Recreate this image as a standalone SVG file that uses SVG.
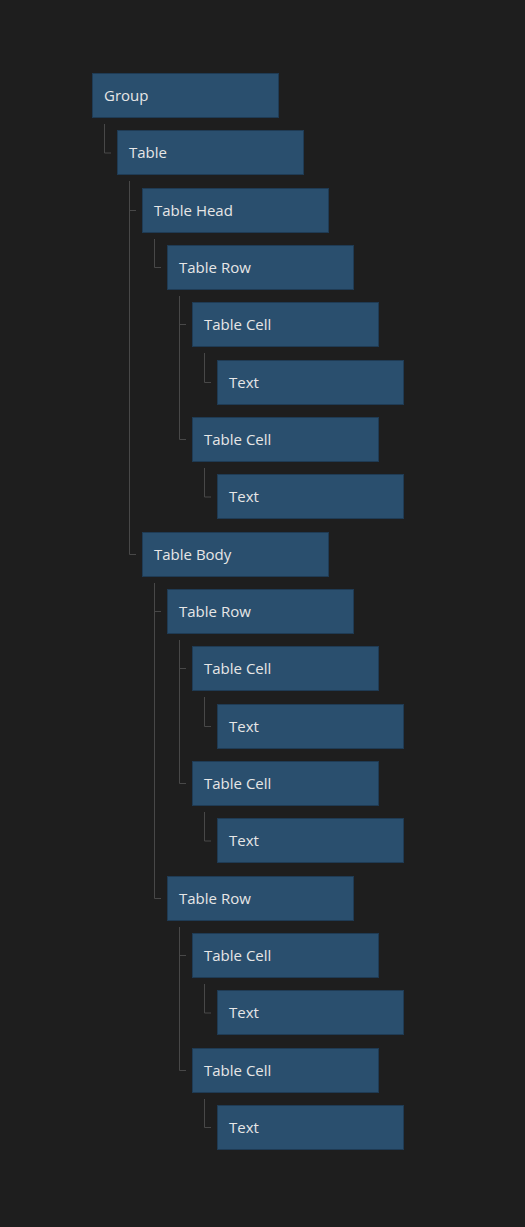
<svg xmlns="http://www.w3.org/2000/svg" width="525" height="1227" viewBox="0 0 525 1227">
<style>
.n rect{fill:#2a4f6e;stroke:#1f3b54;stroke-width:1}
.n text{font-family:"Open Sans","Noto Sans",sans-serif;font-size:15px;fill:#e6e6e6;dominant-baseline:central}
.c path{fill:none;stroke:#484848;stroke-width:1}
</style>
<rect width="525" height="1227" fill="#1e1e1e"/>
<g class="c" id="connectors">
<path d="M104.5 124V153H111"/>
<path d="M129.5 181V554.5H136M129.5 210.5H136"/>
<path d="M154.5 239V267.5H161"/>
<path d="M179.5 296V439.5H186M179.5 324.5H186"/>
<path d="M204.5 353V382.5H211"/>
<path d="M204.5 468V497H211"/>
<path d="M154.5 583V898.5H161M154.5 611.5H161"/>
<path d="M179.5 640V783.5H186M179.5 668.5H186"/>
<path d="M204.5 697V726.5H211"/>
<path d="M204.5 812V841H211"/>
<path d="M179.5 927V1070.5H186M179.5 955.5H186"/>
<path d="M204.5 984V1013H211"/>
<path d="M204.5 1099V1127.5H211"/>
</g>
<g class="n" id="n0"><rect x="92.5" y="73.5" width="186" height="44"/><text x="104" y="95">Group</text></g>
<g class="n" id="n1"><rect x="117.5" y="130.5" width="186" height="44"/><text x="129" y="152">Table</text></g>
<g class="n" id="n2"><rect x="142.5" y="188.5" width="186" height="44"/><text x="154" y="210">Table Head</text></g>
<g class="n" id="n3"><rect x="167.5" y="245.5" width="186" height="44"/><text x="179" y="267">Table Row</text></g>
<g class="n" id="n4"><rect x="192.5" y="302.5" width="186" height="44"/><text x="204" y="324">Table Cell</text></g>
<g class="n" id="n5"><rect x="217.5" y="360.5" width="186" height="44"/><text x="229" y="382">Text</text></g>
<g class="n" id="n6"><rect x="192.5" y="417.5" width="186" height="44"/><text x="204" y="439">Table Cell</text></g>
<g class="n" id="n7"><rect x="217.5" y="474.5" width="186" height="44"/><text x="229" y="496">Text</text></g>
<g class="n" id="n8"><rect x="142.5" y="532.5" width="186" height="44"/><text x="154" y="554">Table Body</text></g>
<g class="n" id="n9"><rect x="167.5" y="589.5" width="186" height="44"/><text x="179" y="611">Table Row</text></g>
<g class="n" id="n10"><rect x="192.5" y="646.5" width="186" height="44"/><text x="204" y="668">Table Cell</text></g>
<g class="n" id="n11"><rect x="217.5" y="704.5" width="186" height="44"/><text x="229" y="726">Text</text></g>
<g class="n" id="n12"><rect x="192.5" y="761.5" width="186" height="44"/><text x="204" y="783">Table Cell</text></g>
<g class="n" id="n13"><rect x="217.5" y="818.5" width="186" height="44"/><text x="229" y="840">Text</text></g>
<g class="n" id="n14"><rect x="167.5" y="876.5" width="186" height="44"/><text x="179" y="898">Table Row</text></g>
<g class="n" id="n15"><rect x="192.5" y="933.5" width="186" height="44"/><text x="204" y="955">Table Cell</text></g>
<g class="n" id="n16"><rect x="217.5" y="990.5" width="186" height="44"/><text x="229" y="1012">Text</text></g>
<g class="n" id="n17"><rect x="192.5" y="1048.5" width="186" height="44"/><text x="204" y="1070">Table Cell</text></g>
<g class="n" id="n18"><rect x="217.5" y="1105.5" width="186" height="44"/><text x="229" y="1127">Text</text></g>
</svg>
